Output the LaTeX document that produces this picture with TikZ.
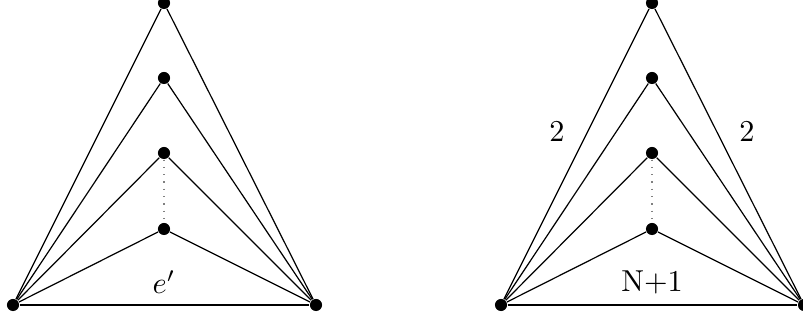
\documentclass[tikz,border=0pt]{standalone}
\usepackage{tikz}

\tikzset{
  vtx/.style={circle, fill=black, inner sep=0pt, minimum size=4pt},
  edge/.style={line width=0.4pt},
  lbl/.style={anchor=base, inner sep=0pt}
}

\begin{document}
\begin{tikzpicture}[x=0.33pt, y=-0.33pt]
  \useasboundingbox (0,0) rectangle (803,321);

  % Left graph
  \node[vtx] (la) at (164,3) {};
  \node[vtx] (lb) at (164,78) {};
  \node[vtx] (lc) at (164,153) {};
  \node[vtx] (ld) at (164,229) {};
  \node[vtx] (lu) at (13,305) {};
  \node[vtx] (lv) at (316,305) {};

  \draw[edge] (lu) -- (la) -- (lv);
  \draw[edge] (lu) -- (lb) -- (lv);
  \draw[edge] (lu) -- (lc) -- (lv);
  \draw[edge] (lu) -- (ld) -- (lv);
  \draw[edge] (lu) -- (lv);
  \draw[dotted, gray] (lc) -- (ld);

  \node[lbl] (le) at (164,294) {$e'$};

  % Right graph
  \node[vtx] (ra) at (652,3) {};
  \node[vtx] (rb) at (652,78) {};
  \node[vtx] (rc) at (652,153) {};
  \node[vtx] (rd) at (652,229) {};
  \node[vtx] (ru) at (501,305) {};
  \node[vtx] (rv) at (804,305) {};

  \draw[edge] (ru) -- (ra) -- (rv);
  \draw[edge] (ru) -- (rb) -- (rv);
  \draw[edge] (ru) -- (rc) -- (rv);
  \draw[edge] (ru) -- (rd) -- (rv);
  \draw[edge] (ru) -- (rv);
  \draw[dotted, gray] (rc) -- (rd);

  \node[lbl] (rn) at (652,292) {N+1};
  \node[lbl] (rl) at (557,142) {2};
  \node[lbl] (rr) at (747,142) {2};

\end{tikzpicture}
\end{document}
